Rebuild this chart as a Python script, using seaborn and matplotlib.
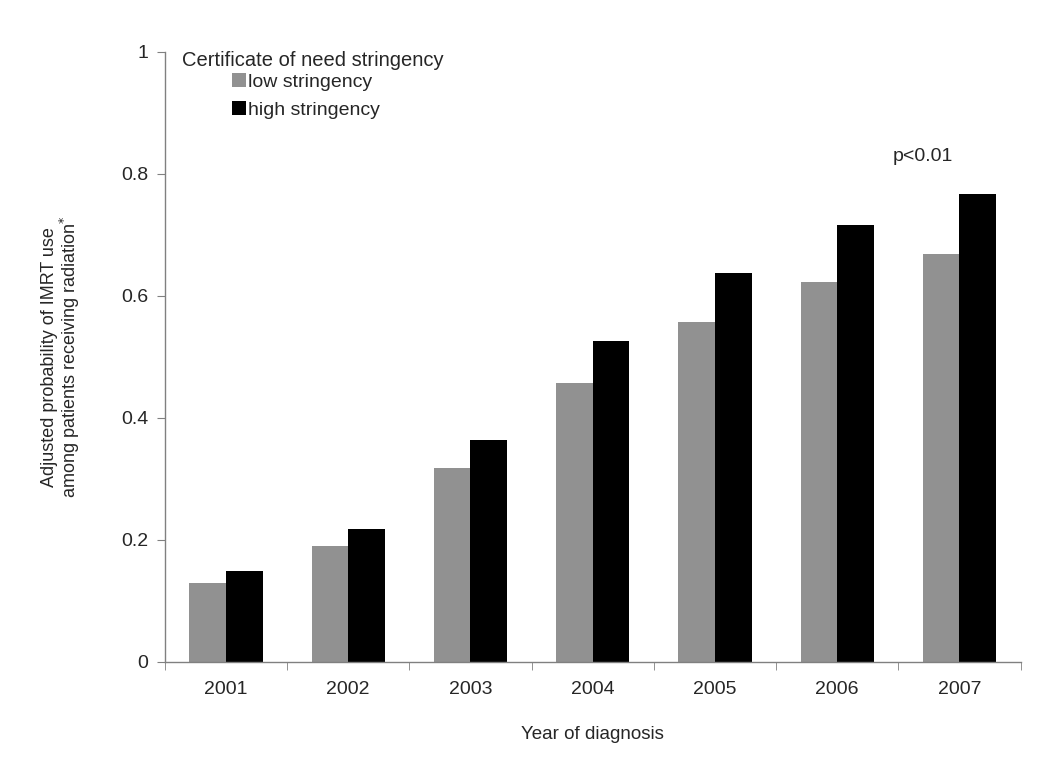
import pandas as pd
import matplotlib
matplotlib.use("Agg")
import matplotlib.pyplot as plt
import seaborn as sns
import numpy as np
from matplotlib.patches import Patch

# valores
anos = ["2001", "2002", "2003", "2004", "2005", "2006", "2007"]
baixa = [0.130, 0.190, 0.318, 0.458, 0.557, 0.623, 0.669]
alta = [0.149, 0.218, 0.364, 0.526, 0.638, 0.716, 0.767]
grupos = ["low stringency", "high stringency"]
cores = ["#919191", "#000000"]

df = pd.DataFrame({
    "ano": anos * 2,
    "valor": baixa + alta,
    "grupo": [grupos[0]] * len(anos) + [grupos[1]] * len(anos),
})

sns.set_style("white")
plt.rcParams["font.family"] = ["Liberation Sans", "DejaVu Sans"]

fig = plt.figure(figsize=(10.5, 7.57), dpi=100)
ax = fig.add_axes([0.157, 0.1255, 0.815, 0.806])

sns.barplot(data=df, x="ano", y="valor", hue="grupo", palette=cores,
            width=0.6, saturation=1, ax=ax, legend=False, edgecolor="none")

ax.set_ylim(0, 1)
ax.set_xlim(-0.5, len(anos) - 0.5)
ax.set_yticks([0, 0.2, 0.4, 0.6, 0.8, 1])
ax.set_yticklabels(["0", "0.2", "0.4", "0.6", "0.8", "1"])
ax.set_xticks(np.arange(len(anos) + 1) - 0.5, minor=True)
ax.tick_params(axis="x", which="major", length=0, pad=14, labelsize=14)
ax.tick_params(axis="x", which="minor", length=6, color="#808080", bottom=True, direction="out")
ax.tick_params(axis="y", length=6, color="#808080", left=True, direction="out", labelsize=14, pad=6)

for s in ["top", "right"]:
    ax.spines[s].set_visible(False)
for s in ["left", "bottom"]:
    ax.spines[s].set_color("#808080")
    ax.spines[s].set_linewidth(1)

ax.set_xlabel("Year of diagnosis", fontsize=13.5)
ax.xaxis.set_label_coords(0.5, -0.105)
ax.set_ylabel("Adjusted probability of IMRT use\namong patients receiving radiation$^{*}$",
              fontsize=13, linespacing=1.0)
ax.yaxis.set_label_coords(-0.097, 0.5)

# legenda
ax.text(0.02, 1.002, "Certificate of need stringency", transform=ax.transAxes,
        fontsize=14.5, va="top", ha="left")
handles = [Patch(facecolor=c, edgecolor="none") for c in cores]
ax.legend(handles, grupos, loc="upper left", bbox_to_anchor=(0.078, 0.966), frameon=False,
          fontsize=14, handlelength=0.75, handleheight=0.75, handletextpad=0.1,
          labelspacing=0.55, borderaxespad=0, borderpad=0)

ax.text(5.7, 0.828, "p<0.01", fontsize=14, ha="center", va="center")

plt.savefig("out.png", dpi=100)
plt.close()
